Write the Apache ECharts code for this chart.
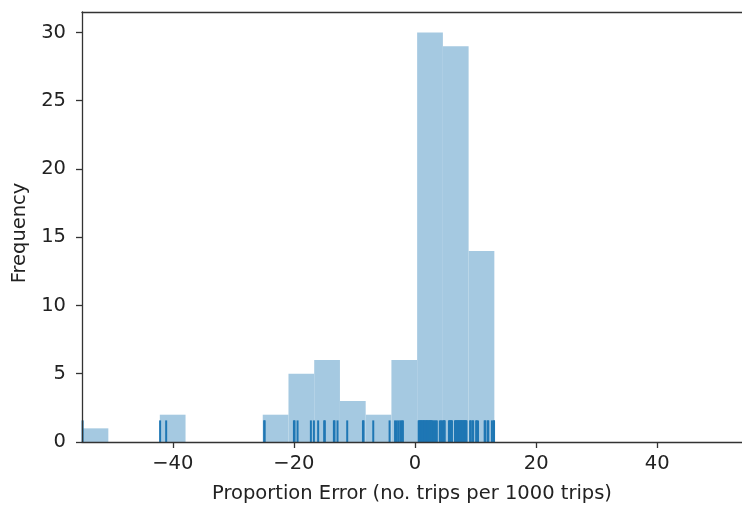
<!DOCTYPE html>
<html>
<head>
<meta charset="utf-8">
<script src="https://cdn.jsdelivr.net/npm/echarts@6/dist/echarts.min.js"></script>
<style>
html,body{margin:0;padding:0;background:#fff;}
#chart{width:742px;height:509px;}
</style>
</head>
<body>
<div id="chart"></div>
<script>
// Histogram bin edges (left edges) and counts
var binEdges = [-54.9, -50.65, -46.4, -42.15, -37.9, -33.65, -29.4, -25.15, -20.9, -16.65, -12.4, -8.15, -3.9, 0.35, 4.6, 8.85, 13.1];
var binCounts = [1, 0, 0, 2, 0, 0, 0, 2, 5, 6, 3, 2, 6, 30, 29, 14];
// Individual observations (rug)
var rugValues = [
  -54.9,
  -42.1, -41.1,
  -24.9, -24.85,
  -20.0, -19.9, -19.4, -17.2, -16.7,
  -16.0, -15.0, -14.9, -13.4, -13.3, -12.8,
  -11.2, -8.6, -8.5,
  -6.9, -4.2,
  -3.3, -3.0, -2.7, -2.4, -2.2, -2.0,
  0.6, 0.7, 0.8, 0.95, 1.0, 1.1, 1.25, 1.3, 1.4, 1.5, 1.6, 1.7, 1.85, 1.9, 2.0, 2.1, 2.2, 2.35, 2.4, 2.5, 2.6, 2.7, 2.8, 3.0, 3.2, 3.4, 3.6, 4.1, 4.3, 4.5,
  4.7, 4.8, 4.9, 5.6, 5.7, 5.8, 5.9, 6.0, 6.1, 6.6, 6.7, 6.8, 6.9, 7.0, 7.1, 7.2, 7.3, 7.4, 7.5, 7.6, 7.7, 7.8, 7.9, 8.0, 8.1, 8.2, 8.3, 8.4, 8.5,
  9.1, 9.2, 9.5, 9.6, 10.1, 10.2, 10.4, 11.5, 11.6, 12.0, 12.1, 12.7, 13.0, 13.05
];
var xTicks = [-40, -20, 0, 20, 40];
var yTicks = [0, 5, 10, 15, 20, 25, 30];
var xTitle = 'Proportion Error (no. trips per 1000 trips)';
var yTitle = 'Frequency';

var histData = [];
for (var i = 0; i < binCounts.length; i++) {
  if (binCounts[i] > 0) histData.push([binEdges[i], binEdges[i + 1], binCounts[i]]);
}
var rugData = rugValues.map(function (v) { return [v]; });

var FONT = 'DejaVu Sans';
var FS = 19.5;
var TXT = '#222';
var AX = '#333';
var chart = echarts.init(document.getElementById('chart'), null, {renderer: 'canvas'});
chart.setOption({
  animation: false,
  backgroundColor: '#fff',
  grid: {left: 82, right: 0, top: 12, bottom: 65, show: false},
  xAxis: [{
    type: 'value', min: -55, max: 54, position: 'bottom', z: 10,
    name: xTitle, nameLocation: 'middle', nameGap: 42,
    nameTextStyle: {fontFamily: FONT, fontSize: FS, color: TXT},
    axisLine: {show: true, onZero: false, lineStyle: {color: AX, width: 1.3}},
    axisTick: {show: true, length: 6, lineStyle: {color: AX, width: 1.3}, customValues: xTicks},
    axisLabel: {fontFamily: FONT, fontSize: FS, color: TXT, margin: 12, customValues: xTicks,
      formatter: function (v) { return v < 0 ? '\u2212' + Math.abs(v) : String(v); }},
    splitLine: {show: false}
  }, {
    type: 'value', min: -55, max: 54, position: 'top', z: 10,
    axisLine: {show: true, onZero: false, lineStyle: {color: AX, width: 1.3}},
    axisTick: {show: false}, axisLabel: {show: false}, splitLine: {show: false}
  }],
  yAxis: {
    type: 'value', min: 0, max: 31.5, z: 10,
    name: yTitle, nameLocation: 'middle', nameGap: 44, nameRotate: 90,
    nameTextStyle: {fontFamily: FONT, fontSize: FS, color: TXT, padding: [0, 12, 0, 0]},
    axisLine: {show: true, onZero: false, lineStyle: {color: AX, width: 1.3}},
    axisTick: {show: true, length: 6, lineStyle: {color: AX, width: 1.3}, customValues: yTicks},
    axisLabel: {fontFamily: FONT, fontSize: FS, color: TXT, margin: 16, customValues: yTicks},
    splitLine: {show: false}
  },
  series: [
    {
      type: 'custom',
      data: histData,
      encode: {x: [0, 1], y: 2},
      renderItem: function (params, api) {
        var p0 = api.coord([api.value(0), 0]);
        var p1 = api.coord([api.value(1), api.value(2)]);
        return {
          type: 'rect',
          shape: {x: p0[0], y: p1[1], width: p1[0] - p0[0], height: p0[1] - p1[1]},
          style: {fill: '#a5c9e1', stroke: null, lineWidth: 0}
        };
      },
      z: 1
    },
    {
      type: 'custom',
      data: rugData,
      encode: {x: 0},
      renderItem: function (params, api) {
        var p = api.coord([api.value(0), 0]);
        return {
          type: 'line',
          shape: {x1: p[0], y1: p[1], x2: p[0], y2: p[1] - 21.6},
          style: {stroke: '#1f77b4', lineWidth: 2}
        };
      },
      z: 2
    }
  ]
});
</script>
</body>
</html>
